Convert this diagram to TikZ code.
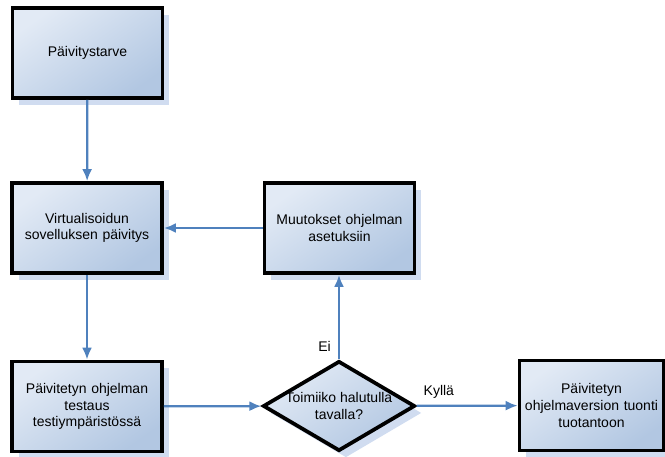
\documentclass[tikz,border=0pt]{standalone}
\usepackage{fontspec}
\setmainfont{Liberation Sans}
\usetikzlibrary{arrows.meta,positioning,shapes.geometric,shadows,patterns}

\definecolor{boxlight}{RGB}{226,234,245}
\definecolor{boxdark}{RGB}{178,199,226}
\definecolor{linkblue}{RGB}{79,129,189}
\definecolor{shadowblue}{RGB}{208,220,240}

\tikzset{
  boxlook/.style={draw=black,line width=2.8pt,top color=boxlight,bottom color=boxdark,shading angle=35,
    align=center,font=\fontsize{10.5}{12.5}\selectfont,
    general shadow={shadow xshift=5.2pt,shadow yshift=-5.2pt,fill=shadowblue}},
  stepbox/.style={boxlook,minimum width=112.5pt,minimum height=67.5pt,text width=104pt,inner sep=2pt},
  askbox/.style={boxlook,diamond,aspect=1.69,minimum width=114pt,minimum height=67.5pt,inner xsep=-16pt,inner ysep=0pt},
  link/.style={draw=linkblue,line width=1.7pt,-{Latex[length=9pt,width=7.5pt]}},
  tag/.style={font=\fontsize{10.5}{12.5}\selectfont}
}

\begin{document}
\begin{tikzpicture}[x=0.75pt,y=-0.75pt]
\useasboundingbox (0,0) rectangle (665,457);
\node[stepbox] (s0) at (87.5,53) {P\"aivitystarve};
\node[stepbox] (s1) at (87,228) {Virtualisoidun\\sovelluksen p\"aivitys};
\node[stepbox] (s2) at (339.5,228) {Muutokset ohjelman\\asetuksiin};
\node[stepbox] (s3) at (87,406.5) {P\"aivitetyn ohjelman\\testaus\\testiymp\"arist\"oss\"a};
\node[askbox] (q0) at (339,406) {Toimiiko halutulla\\tavalla?};
\node[stepbox,minimum width=107pt,text width=104pt] (s4) at (591.5,405.5) {P\"aivitetyn\\ohjelmaversion tuonti\\tuotantoon};

\draw[link] (s0) -- (s1);
\draw[link] (s2) -- (s1);
\draw[link] (s1) -- (s3);
\draw[link] (s3) -- (q0);
\draw[link] (q0.north) -- node[tag,pos=0.15,left=2pt] {Ei} (q0.north |- s2.south);
\draw[link] (q0) -- node[tag,pos=0.22,above=1pt] {Kyll\"a} (s4);
\end{tikzpicture}
\end{document}
